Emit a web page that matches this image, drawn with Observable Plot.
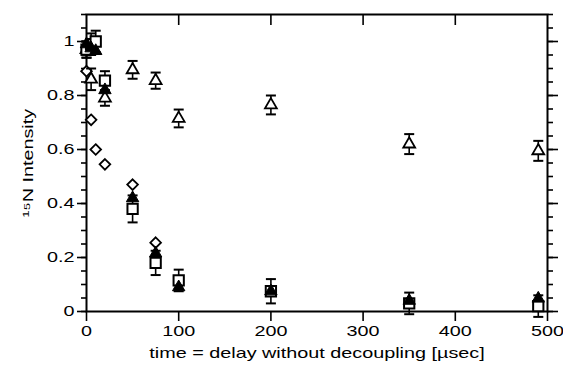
<!DOCTYPE html>
<html>
<head>
<meta charset="utf-8">
<script src="https://cdn.jsdelivr.net/npm/d3@7"></script>
<script src="https://cdn.jsdelivr.net/npm/@observablehq/plot@0.6"></script>
<style>
  html, body { margin: 0; padding: 0; background: #fff; }
  #chart svg { display: block; }
</style>
</head>
<body>
<div id="chart"></div>
<script>
// time points (µs)
const times = [0, 5, 10, 20, 50, 75, 100, 200, 350, 490];
// open squares (with error bars)
const squareY = [0.97, 0.99, 1.00, 0.855, 0.38, 0.18, 0.115, 0.075, 0.03, 0.02];
const squareErr = [0.03, 0.04, 0.04, 0.035, 0.05, 0.045, 0.04, 0.045, 0.04, 0.04];
// filled triangles
const filledTriY = [0.99, 0.975, 0.965, 0.82, 0.42, 0.215, 0.09, 0.075, 0.04, 0.048];
// open triangles (with error bars)
const openTriTimes = [0, 5, 20, 50, 75, 100, 200, 350, 490];
const openTriY = [0.97, 0.86, 0.79, 0.895, 0.855, 0.715, 0.765, 0.62, 0.595];
const openTriErr = [0.03, 0.04, 0.028, 0.033, 0.03, 0.033, 0.035, 0.037, 0.037];
// open diamonds
const diamondTimes = [0, 5, 10, 20, 50, 75];
const diamondY = [0.89, 0.71, 0.60, 0.545, 0.47, 0.255];

const xMajor = [0, 100, 200, 300, 400, 500];
const xTop = [100, 200, 300, 400];
const yMajor = [0, 0.2, 0.4, 0.6, 0.8, 1];
const yMinor = d3.range(0, 23).map(i => i * 0.05).filter(v => v <= 1.1 + 1e-9);

const squares = times.map((t, i) => ({t, y: squareY[i], e: squareErr[i]}));
const filled = times.map((t, i) => ({t, y: filledTriY[i]}));
const openTri = openTriTimes.map((t, i) => ({t, y: openTriY[i], e: openTriErr[i]}));
const diamonds = diamondTimes.map((t, i) => ({t, y: diamondY[i]}));

const capSymbol = {
  draw(context, size) {
    const r = Math.sqrt(size / Math.PI);
    context.moveTo(-r, 0);
    context.lineTo(r, 0);
  }
};

function errorBars(data) {
  return [
    Plot.ruleX(data, {x: "t", y1: d => d.y - d.e, y2: d => d.y + d.e, stroke: "black", strokeWidth: 1.6}),
    Plot.dot(data, {x: "t", y: d => d.y - d.e, symbol: capSymbol, r: 5, stroke: "black", strokeWidth: 2}),
    Plot.dot(data, {x: "t", y: d => d.y + d.e, symbol: capSymbol, r: 5, stroke: "black", strokeWidth: 2})
  ];
}

const font = "Liberation Sans, Arial, Helvetica, sans-serif";

const chart = Plot.plot({
  width: 563,
  height: 371,
  marginLeft: 86,
  marginRight: 16,
  marginTop: 14,
  marginBottom: 60,
  style: {fontFamily: font, fontSize: "15px", color: "black", background: "white"},
  x: {domain: [0, 500]},
  y: {domain: [0, 1.1]},
  marks: [
    Plot.axisX({anchor: "bottom", ticks: xMajor, tickSize: 10, tickPadding: 4, tickFormat: d3.format("d"),
      label: "time = delay without decoupling [µsec]", labelAnchor: "center", labelOffset: 46, labelArrow: "none", strokeWidth: 1.6}),
    Plot.axisX({anchor: "top", ticks: xTop, tickSize: -10, tickFormat: () => "", label: null, strokeWidth: 1.6}),
    Plot.axisY({anchor: "left", ticks: yMajor, tickSize: 9, tickPadding: 3, tickFormat: d => d === 0 || d === 1 ? String(d) : d3.format(".1f")(d),
      label: "¹⁵N Intensity", labelAnchor: "center", labelOffset: 64, labelArrow: "none", strokeWidth: 1.6}),
    Plot.axisY({anchor: "left", ticks: yMinor, tickSize: 5, tickFormat: () => "", label: null, strokeWidth: 1.6}),
    Plot.axisY({anchor: "right", ticks: yMajor, tickSize: 10, tickFormat: () => "", label: null, strokeWidth: 1.6}),
    Plot.axisY({anchor: "right", ticks: yMinor, tickSize: 5, tickFormat: () => "", label: null, strokeWidth: 1.6}),
    Plot.frame({stroke: "black", strokeWidth: 2}),
    Plot.dot(diamonds, {x: "t", y: "y", symbol: "diamond2", r: 4.8, stroke: "black", fill: "white", strokeWidth: 1.8}),
    ...errorBars(openTri),
    Plot.dot(openTri, {x: "t", y: "y", symbol: "triangle", r: 4.4, stroke: "black", fill: "white", strokeWidth: 1.8}),
    ...errorBars(squares),
    Plot.dot(squares, {x: "t", y: "y", symbol: "square", r: 5.8, stroke: "black", fill: "white", strokeWidth: 2}),
    Plot.dot(filled, {x: "t", y: "y", symbol: "triangle", r: 4.6, stroke: "black", fill: "black", strokeWidth: 1})
  ]
});

document.getElementById("chart").appendChild(chart);

// the reference typeface is wide: stretch glyphs along the text direction
chart.querySelectorAll("text").forEach(t => {
  const len = t.getComputedTextLength();
  if (len > 0) {
    t.setAttribute("textLength", (len * 1.32).toFixed(1));
    t.setAttribute("lengthAdjust", "spacingAndGlyphs");
  }
});
</script>
</body>
</html>
